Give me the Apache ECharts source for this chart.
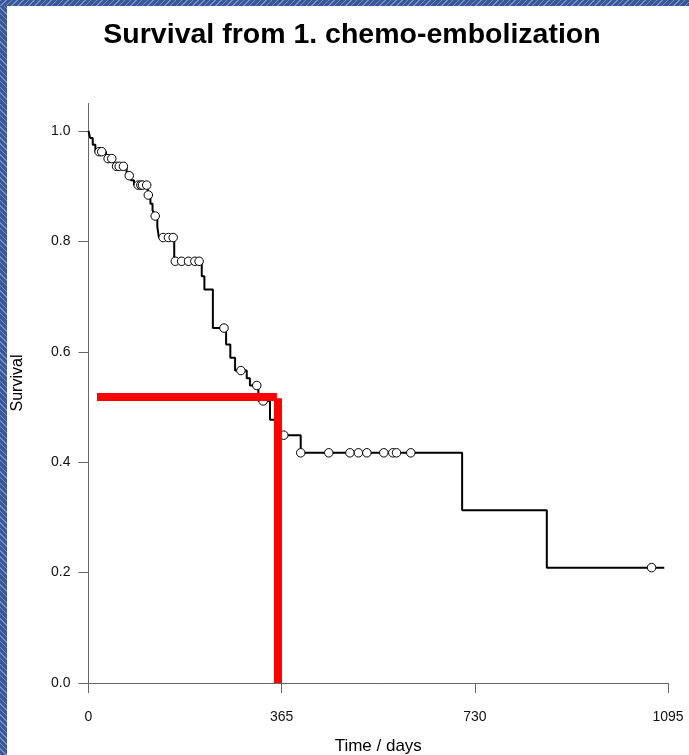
<!DOCTYPE html>
<html>
<head>
<meta charset="utf-8">
<title>Survival from 1. chemo-embolization</title>
<script src="https://cdn.jsdelivr.net/npm/echarts@6.0.0/dist/echarts.min.js"></script>
<style>
  html, body { margin: 0; padding: 0; background: #fff; }
  #chart {
    width: 689px;
    height: 755px;
    background-color: #fff;
    background-image:
      repeating-linear-gradient(135deg, #7391c9 0 1px, #3a5897 1px 4px),
      repeating-linear-gradient(45deg, #7391c9 0 1px, #3a5897 1px 4px);
    background-size: 100% 6px, 7px 100%;
    background-position: 0 0, 0 0;
    background-repeat: no-repeat;
  }
</style>
</head>
<body>
<div id="chart"></div>
<script>
// Kaplan-Meier steps: day of each drop and survival after it
var stepDays = [0, 3, 8, 13, 33, 48, 72, 80, 86, 112, 117, 121, 124, 130, 133, 162,
  214, 219, 235, 260, 268, 277, 299, 305, 321, 343, 358, 401, 706, 866, 1088];
var stepSurv = [1.0, 0.9875, 0.975, 0.9625, 0.95, 0.936, 0.919, 0.911, 0.902, 0.884, 0.868, 0.857, 0.846, 0.827, 0.807, 0.764,
  0.737, 0.713, 0.643, 0.613, 0.589, 0.566, 0.552, 0.539, 0.511, 0.477, 0.449, 0.417, 0.313, 0.209, 0.209];

// censored observations
var censorDays = [20, 25, 37, 44, 53, 58, 66, 77, 94, 99, 102, 110, 113, 126, 141, 151, 160,
  164, 176, 189, 201, 209, 256, 288, 318, 330, 369,
  401, 454, 494, 510, 526, 558, 575, 582, 609, 1064];
var censorSurv = [0.9625, 0.9625, 0.95, 0.95, 0.936, 0.936, 0.936, 0.919, 0.902, 0.902, 0.902, 0.902, 0.884, 0.846, 0.807, 0.807, 0.807,
  0.764, 0.764, 0.764, 0.764, 0.764, 0.643, 0.566, 0.539, 0.511, 0.449,
  0.417, 0.417, 0.417, 0.417, 0.417, 0.417, 0.417, 0.417, 0.417, 0.209];

// red median marker
var medianDay = 358;
var medianSurv = 0.518;
var markStartDay = 16;
var markEndDay = 356;

var xTicks = [0, 365, 730, 1095];
var yTicks = [0, 0.2, 0.4, 0.6, 0.8, 1.0];

function pairs(xs, ys) {
  var out = [];
  for (var i = 0; i < xs.length; i++) out.push([xs[i], ys[i]]);
  return out;
}

var myChart = echarts.init(document.getElementById('chart'));
var font = 'Liberation Sans, Arial, sans-serif';

myChart.setOption({
  animation: false,
  title: {
    text: 'Survival from 1. chemo-embolization',
    left: 347,
    top: 16,
    textAlign: 'center',
    textStyle: { fontFamily: font, fontSize: 28.5, fontWeight: 'bold', color: '#000' }
  },
  grid: { left: 88.5, right: 21, top: 103.4, bottom: 72, outerBoundsMode: 'none' },
  xAxis: {
    type: 'value',
    min: 0,
    max: 1095,
    interval: 365,
    name: 'Time / days',
    nameLocation: 'middle',
    nameGap: 55,
    nameTextStyle: { fontFamily: font, fontSize: 17, color: '#000' },
    axisLine: { onZero: false, lineStyle: { color: '#666', width: 1 } },
    axisTick: { length: 10, lineStyle: { color: '#666' } },
    axisLabel: { fontFamily: font, fontSize: 14, color: '#111', margin: 27,
      customValues: xTicks,
      formatter: function (v) { return String(v); } },
    splitLine: { show: false }
  },
  yAxis: {
    type: 'value',
    min: 0,
    max: 1.05,
    axisLine: { show: true, lineStyle: { color: '#666', width: 1 } },
    axisTick: { show: true, length: 10, lineStyle: { color: '#666' }, customValues: yTicks },
    axisLabel: { fontFamily: font, fontSize: 14, color: '#111', margin: 18,
      customValues: yTicks,
      formatter: function (v) { return v.toFixed(1); } },
    splitLine: { show: false }
  },
  graphic: [{
    type: 'text',
    x: 18,
    y: 383,
    rotation: Math.PI / 2,
    style: { text: 'Survival', font: '16px ' + font, fill: '#000',
      align: 'center', verticalAlign: 'middle' }
  }],
  series: [
    {
      type: 'line',
      step: 'end',
      data: pairs(stepDays, stepSurv),
      symbol: 'none',
      lineStyle: { color: '#000', width: 2 },
      z: 2
    },
    {
      type: 'scatter',
      data: pairs(censorDays, censorSurv),
      symbol: 'circle',
      symbolSize: 8.5,
      itemStyle: { color: '#fff', borderColor: '#000', borderWidth: 1, opacity: 1 },
      z: 3
    },
    {
      type: 'line',
      data: [[markStartDay, medianSurv], [markEndDay, medianSurv]],
      symbol: 'none',
      lineStyle: { color: '#ff0000', width: 8, cap: 'butt' },
      z: 4
    },
    {
      type: 'line',
      data: [[medianDay, 0], [medianDay, medianSurv - 0.002]],
      symbol: 'none',
      lineStyle: { color: '#ff0000', width: 8, cap: 'butt' },
      z: 4
    }
  ]
});

window.onresize = function () {
  myChart.resize();
};
</script>
</body>
</html>
